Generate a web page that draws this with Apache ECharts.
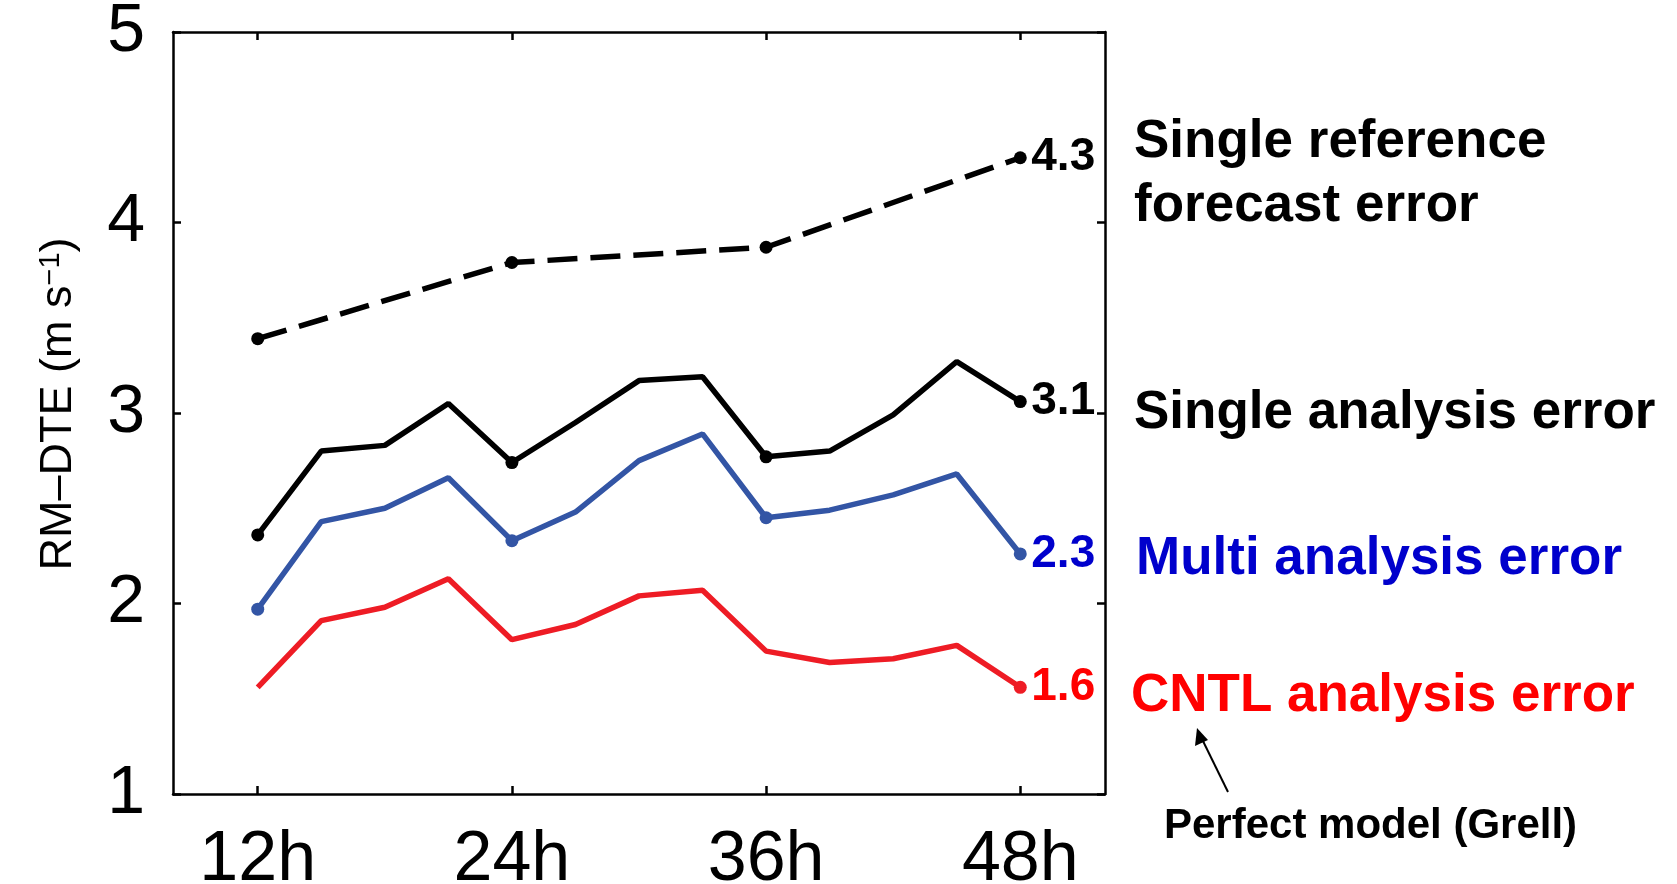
<!DOCTYPE html>
<html>
<head>
<meta charset="utf-8">
<script src="https://cdn.jsdelivr.net/npm/echarts@6/dist/echarts.min.js"></script>
<style>
html,body{margin:0;padding:0;background:#fff;}
#chart{width:1677px;height:884px;}
</style>
</head>
<body>
<div id="chart"></div>
<script>
// ---- data ----
const hours = [12, 15, 18, 21, 24, 27, 30, 33, 36, 39, 42, 45, 48];
const refHours = [12, 24, 36, 48];
const singleReference = [3.39, 3.79, 3.87, 4.34];
const singleAnalysis = [2.36, 2.80, 2.83, 3.05, 2.74, 2.95, 3.17, 3.19, 2.77, 2.80, 2.99, 3.27, 3.06];
const multiAnalysis = [1.97, 2.43, 2.50, 2.66, 2.33, 2.48, 2.75, 2.89, 2.45, 2.49, 2.57, 2.68, 2.26];
const cntlAnalysis = [1.56, 1.91, 1.98, 2.13, 1.81, 1.89, 2.04, 2.07, 1.75, 1.69, 1.71, 1.78, 1.56];
const xTickValues = [12, 24, 36, 48];
const xTickLabels = ['12h', '24h', '36h', '48h'];
const seriesNames = ['Single reference\nforecast error', 'Single analysis error', 'Multi analysis error', 'CNTL analysis error'];
const noteText = 'Perfect model (Grell)';
const yAxisName = 'RM\u2013DTE (m s';

// ---- build ----
const FONT = 'Liberation Sans, Arial, sans-serif';
function build(xs, ys, markerHours) {
  return xs.map((h, i) => ({
    value: [h, ys[i]],
    symbol: markerHours.indexOf(h) >= 0 ? 'circle' : 'none'
  }));
}
function endLab(color) {
  return {
    show: true,
    formatter: p => p.value[1].toFixed(1),
    color: color,
    fontSize: 46,
    fontWeight: 'bold',
    fontFamily: FONT,
    distance: 11
  };
}
const chart = echarts.init(document.getElementById('chart'), null, {renderer: 'canvas'});
const axisLineStyle = {color: '#000', width: 2.5};
const tickStyle = {show: true, inside: true, length: 8, lineStyle: {color: '#000', width: 2.5}};

const option = {
  animation: false,
  backgroundColor: '#fff',
  grid: {left: 173, right: 572, top: 32, bottom: 90, show: false, containLabel: false, outerBoundsMode: 'none'},
  xAxis: [{
    type: 'value', min: 8, max: 52, position: 'bottom',
    axisLine: {show: true, lineStyle: axisLineStyle},
    axisTick: Object.assign({}, tickStyle, {customValues: xTickValues}),
    axisLabel: {
      customValues: xTickValues,
      formatter: v => xTickLabels[xTickValues.indexOf(v)],
      fontSize: 70, color: '#000', fontFamily: FONT, margin: 32
    },
    splitLine: {show: false}
  }, {
    type: 'value', min: 8, max: 52, position: 'top',
    axisLine: {show: true, lineStyle: axisLineStyle},
    axisTick: Object.assign({}, tickStyle, {customValues: xTickValues}),
    axisLabel: {show: false},
    splitLine: {show: false}
  }],
  yAxis: [{
    type: 'value', min: 1, max: 5, interval: 1, position: 'left',
    axisLine: {show: true, lineStyle: axisLineStyle},
    axisTick: tickStyle,
    axisLabel: {fontSize: 68, color: '#000', fontFamily: FONT, margin: 28},
    splitLine: {show: false},
    name: '{a|' + yAxisName + '}{b|\u22121}{a|)}',
    nameLocation: 'middle',
    nameGap: 92,
    nameRotate: 90,
    nameTextStyle: {
      padding: [0, 0, 0, 18],
      rich: {
        a: {fontSize: 45, color: '#000', fontFamily: FONT, verticalAlign: 'bottom'},
        b: {fontSize: 29, color: '#000', fontFamily: FONT, verticalAlign: 'top'}
      }
    }
  }, {
    type: 'value', min: 1, max: 5, interval: 1, position: 'right',
    axisLine: {show: true, lineStyle: axisLineStyle},
    axisTick: tickStyle,
    axisLabel: {show: false},
    splitLine: {show: false}
  }],
  series: [{
    name: 'cntl', type: 'line',
    data: build(hours, cntlAnalysis, [48]),
    showAllSymbol: true, symbolSize: 13,
    itemStyle: {color: '#ee1c25'},
    lineStyle: {color: '#ee1c25', width: 5.5},
    endLabel: endLab('#ff0000')
  }, {
    name: 'multi', type: 'line',
    data: build(hours, multiAnalysis, refHours),
    showAllSymbol: true, symbolSize: 13,
    itemStyle: {color: '#3355a5'},
    lineStyle: {color: '#3355a5', width: 5.5},
    endLabel: endLab('#0000cc')
  }, {
    name: 'single', type: 'line',
    data: build(hours, singleAnalysis, refHours),
    showAllSymbol: true, symbolSize: 13,
    itemStyle: {color: '#000'},
    lineStyle: {color: '#000', width: 5.5},
    endLabel: endLab('#000')
  }, {
    name: 'ref', type: 'line',
    data: build(refHours, singleReference, refHours),
    showAllSymbol: true, symbolSize: 13,
    itemStyle: {color: '#000'},
    lineStyle: {color: '#000', width: 5.5, type: [30, 13]},
    endLabel: endLab('#000')
  }],
  graphic: [
    {type: 'text', left: 1134, top: 110, style: {text: seriesNames[0], font: 'bold 53px ' + FONT, fill: '#000', lineHeight: 64}},
    {type: 'text', left: 1134, top: 381, style: {text: seriesNames[1], font: 'bold 53px ' + FONT, fill: '#000', lineHeight: 64}},
    {type: 'text', left: 1136, top: 527, style: {text: seriesNames[2], font: 'bold 53px ' + FONT, fill: '#0000cc', lineHeight: 64}},
    {type: 'text', left: 1131, top: 664, style: {text: seriesNames[3], font: 'bold 53px ' + FONT, fill: '#ff0000', lineHeight: 64}},
    {type: 'text', left: 1164, top: 800, style: {text: noteText, font: 'bold 42px ' + FONT, fill: '#000', lineHeight: 52}},
    {type: 'line', shape: {x1: 1228, y1: 792, x2: 1201, y2: 737}, style: {stroke: '#000', lineWidth: 2}},
    {type: 'polygon', shape: {points: [[1197, 728], [1195, 746], [1208, 740]]}, style: {fill: '#000'}}
  ]
};
chart.setOption(option);
</script>
</body>
</html>
